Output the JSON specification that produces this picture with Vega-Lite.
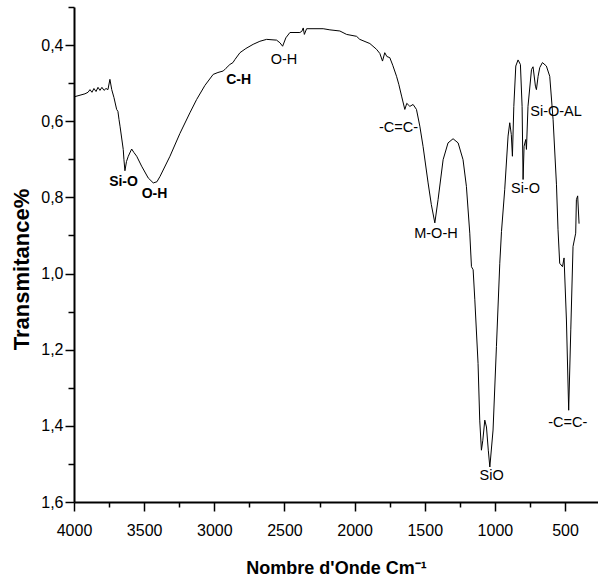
{
  "$schema": "https://vega.github.io/schema/vega-lite/v6.json",
  "width": 524,
  "height": 495,
  "autosize": {"type": "none"},
  "padding": {"left": 74, "top": 7, "right": 0, "bottom": 84},
  "config": {"view": {"stroke": null}, "font": "Liberation Sans"},
  "resolve": {"axis": {"x": "independent", "y": "independent"}},
  "layer": [
    {
      "data": {"values": [
        {"w":4000,"t":0.536},{"w":3922,"t":0.528},{"w":3900,"t":0.524},{"w":3886,"t":0.517},{"w":3872,"t":0.524},
        {"w":3858,"t":0.514},{"w":3843,"t":0.522},{"w":3829,"t":0.511},{"w":3815,"t":0.519},{"w":3801,"t":0.511},
        {"w":3786,"t":0.519},{"w":3772,"t":0.514},{"w":3758,"t":0.517},{"w":3744,"t":0.490},{"w":3731,"t":0.517},
        {"w":3715,"t":0.538},{"w":3696,"t":0.569},{"w":3687,"t":0.574},{"w":3679,"t":0.596},{"w":3672,"t":0.613},
        {"w":3649,"t":0.674},{"w":3644,"t":0.701},{"w":3637,"t":0.730},{"w":3626,"t":0.706},{"w":3613,"t":0.692},
        {"w":3589,"t":0.673},{"w":3573,"t":0.682},{"w":3553,"t":0.692},{"w":3518,"t":0.718},{"w":3471,"t":0.749},
        {"w":3435,"t":0.762},{"w":3409,"t":0.759},{"w":3387,"t":0.745},{"w":3316,"t":0.692},{"w":3245,"t":0.632},
        {"w":3174,"t":0.578},{"w":3126,"t":0.543},{"w":3067,"t":0.506},{"w":3008,"t":0.477},{"w":2974,"t":0.472},
        {"w":2936,"t":0.468},{"w":2917,"t":0.461},{"w":2889,"t":0.451},{"w":2867,"t":0.446},{"w":2853,"t":0.438},
        {"w":2817,"t":0.420},{"w":2775,"t":0.409},{"w":2723,"t":0.398},{"w":2675,"t":0.390},{"w":2627,"t":0.385},
        {"w":2556,"t":0.387},{"w":2532,"t":0.394},{"w":2513,"t":0.403},{"w":2490,"t":0.381},{"w":2461,"t":0.367},
        {"w":2390,"t":0.367},{"w":2376,"t":0.364},{"w":2366,"t":0.355},{"w":2358,"t":0.372},{"w":2342,"t":0.357},
        {"w":2224,"t":0.357},{"w":2176,"t":0.360},{"w":2105,"t":0.363},{"w":2057,"t":0.372},{"w":1986,"t":0.377},
        {"w":1963,"t":0.385},{"w":1891,"t":0.396},{"w":1844,"t":0.411},{"w":1820,"t":0.422},{"w":1801,"t":0.442},
        {"w":1785,"t":0.420},{"w":1770,"t":0.430},{"w":1749,"t":0.433},{"w":1728,"t":0.453},{"w":1701,"t":0.482},
        {"w":1685,"t":0.503},{"w":1665,"t":0.534},{"w":1642,"t":0.569},{"w":1628,"t":0.553},{"w":1606,"t":0.561},
        {"w":1583,"t":0.556},{"w":1559,"t":0.569},{"w":1535,"t":0.613},{"w":1512,"t":0.666},{"w":1476,"t":0.762},
        {"w":1453,"t":0.819},{"w":1428,"t":0.867},{"w":1405,"t":0.806},{"w":1369,"t":0.701},{"w":1334,"t":0.657},
        {"w":1298,"t":0.646},{"w":1262,"t":0.657},{"w":1227,"t":0.701},{"w":1203,"t":0.771},{"w":1179,"t":0.894},
        {"w":1167,"t":0.982},{"w":1155,"t":0.990},{"w":1143,"t":1.069},{"w":1120,"t":1.236},{"w":1108,"t":1.385},
        {"w":1096,"t":1.464},{"w":1086,"t":1.438},{"w":1072,"t":1.385},{"w":1060,"t":1.403},{"w":1047,"t":1.464},
        {"w":1036,"t":1.508},{"w":1013,"t":1.411},{"w":989,"t":1.192},{"w":965,"t":0.973},{"w":953,"t":0.890},
        {"w":930,"t":0.780},{"w":906,"t":0.639},{"w":894,"t":0.604},{"w":883,"t":0.635},{"w":875,"t":0.692},
        {"w":865,"t":0.561},{"w":851,"t":0.455},{"w":835,"t":0.439},{"w":818,"t":0.451},{"w":806,"t":0.561},
        {"w":799,"t":0.753},{"w":792,"t":0.666},{"w":780,"t":0.648},{"w":775,"t":0.674},{"w":764,"t":0.561},
        {"w":739,"t":0.464},{"w":728,"t":0.457},{"w":711,"t":0.508},{"w":704,"t":0.517},{"w":692,"t":0.482},
        {"w":680,"t":0.459},{"w":661,"t":0.446},{"w":633,"t":0.455},{"w":609,"t":0.482},{"w":585,"t":0.596},
        {"w":561,"t":0.767},{"w":550,"t":0.885},{"w":538,"t":0.973},{"w":518,"t":0.982},{"w":507,"t":0.959},
        {"w":490,"t":1.122},{"w":474,"t":1.359},{"w":459,"t":1.148},{"w":443,"t":0.929},{"w":424,"t":0.894},
        {"w":419,"t":0.806},{"w":410,"t":0.796},{"w":400,"t":0.869}
      ]},
      "mark": {"type": "line", "color": "black", "strokeWidth": 1},
      "encoding": {
        "x": {
          "field": "w", "type": "quantitative",
          "scale": {"domain": [265, 4000], "reverse": true, "nice": false, "zero": false},
          "axis": {
            "orient": "bottom",
            "title": "Nombre d'Onde Cm⁻¹",
            "values": [4000, 3500, 3000, 2500, 2000, 1500, 1000, 500],
            "format": "d",
            "tickSize": 9,
            "grid": false,
            "domainColor": "black", "domainWidth": 2,
            "tickColor": "black", "tickWidth": 1.5,
            "labelColor": "black", "labelFontSize": 16, "labelPadding": 11, "labelFlush": false, "labelOverlap": false,
            "titleColor": "black", "titleFontSize": 18, "titleFontWeight": "bold",
            "titleX": 262, "titleY": 71, "titleBaseline": "alphabetic", "titleAlign": "center"
          }
        },
        "y": {
          "field": "t", "type": "quantitative",
          "scale": {"domain": [0.3, 1.6], "reverse": true, "nice": false, "zero": false},
          "axis": {
            "orient": "left",
            "title": "Transmitance%",
            "values": [0.4, 0.6, 0.8, 1.0, 1.2, 1.4, 1.6],
            "labelExpr": "replace(format(datum.value, '.1f'), '.', ',')",
            "tickSize": 9,
            "grid": false,
            "domainColor": "black", "domainWidth": 2,
            "tickColor": "black", "tickWidth": 1.5,
            "labelColor": "black", "labelFontSize": 16, "labelPadding": 2, "labelFlush": false, "labelOverlap": false,
            "titleColor": "black", "titleFontSize": 22, "titleFontWeight": "bold",
            "titleX": -53, "titleY": 262, "titleAngle": 270, "titleBaseline": "middle", "titleAlign": "center"
          }
        }
      }
    },
    {
      "data": {"values": [
        {"w": 3647, "t": 0.759, "label": "Si-O"},
        {"w": 3426, "t": 0.792, "label": "O-H"},
        {"w": 2827, "t": 0.493, "label": "C-H"}
      ]},
      "mark": {"type": "text", "fontSize": 14, "fontWeight": "bold", "color": "black", "align": "center", "baseline": "middle"},
      "encoding": {
        "x": {
          "field": "w", "type": "quantitative",
          "scale": {"domain": [265, 4000], "reverse": true, "nice": false, "zero": false},
          "axis": {
            "orient": "bottom", "title": null, "labels": false, "domain": false, "grid": false,
            "values": [3750, 3250, 2750, 2250, 1750, 1250, 750],
            "tickSize": 5, "tickColor": "black", "tickWidth": 1.5
          }
        },
        "y": {
          "field": "t", "type": "quantitative",
          "scale": {"domain": [0.3, 1.6], "reverse": true, "nice": false, "zero": false},
          "axis": {
            "orient": "left", "title": null, "labels": false, "domain": false, "grid": false,
            "values": [0.3, 0.5, 0.7, 0.9, 1.1, 1.3, 1.5],
            "tickSize": 6, "tickColor": "black", "tickWidth": 1.5
          }
        },
        "text": {"field": "label"}
      }
    },
    {
      "data": {"values": [
        {"w": 2503, "t": 0.438, "label": "O-H"},
        {"w": 1687, "t": 0.617, "label": "-C=C-"},
        {"w": 1420, "t": 0.897, "label": "M-O-H"},
        {"w": 782, "t": 0.778, "label": "Si-O"},
        {"w": 564, "t": 0.577, "label": "Si-O-AL"},
        {"w": 1023, "t": 1.533, "label": "SiO"},
        {"w": 481, "t": 1.392, "label": "-C=C-"}
      ]},
      "mark": {"type": "text", "fontSize": 14.5, "color": "black", "align": "center", "baseline": "middle"},
      "encoding": {
        "x": {
          "field": "w", "type": "quantitative",
          "scale": {"domain": [265, 4000], "reverse": true, "nice": false, "zero": false},
          "axis": null
        },
        "y": {
          "field": "t", "type": "quantitative",
          "scale": {"domain": [0.3, 1.6], "reverse": true, "nice": false, "zero": false},
          "axis": null
        },
        "text": {"field": "label"}
      }
    }
  ]
}
